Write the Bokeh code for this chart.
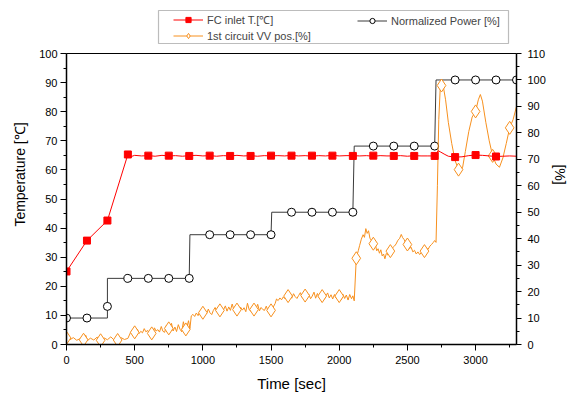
from bokeh.plotting import figure
from bokeh.models import (Range1d, LinearAxis, SingleIntervalTicker, Legend, LegendItem,
                          BoxAnnotation, Span)
from bokeh.embed import file_html
from bokeh.resources import INLINE

# ---------------- data ----------------
# FC inlet temperature [degC] (left axis)
temp_t = [0, 150, 300, 450, 475, 500, 550, 600, 650, 700, 750, 800, 850, 900, 950, 1000,
          1050, 1100, 1150, 1200, 1250, 1300, 1350, 1400, 1450, 1500, 1550, 1600, 1650,
          1700, 1750, 1800, 1850, 1900, 1950, 2000, 2050, 2100, 2150, 2200, 2250, 2300,
          2350, 2400, 2450, 2500, 2550, 2600, 2650, 2700, 2712, 2725, 2745, 2775, 2800,
          2850, 2900, 2950, 3000, 3050, 3100, 3150, 3200, 3250, 3300]
temp_v = [25.1, 35.7, 42.6, 65.3, 64.6, 65.0, 64.8, 64.9, 64.7, 65.0, 64.8, 64.9, 64.7,
          64.9, 65.0, 64.8, 64.9, 64.7, 64.9, 64.8, 65.0, 64.8, 64.9, 64.7, 64.9, 64.8,
          64.9, 64.8, 65.0, 64.8, 64.9, 64.7, 64.9, 64.8, 65.0, 64.8, 64.9, 64.9, 64.8,
          64.9, 64.7, 64.9, 64.8, 64.8, 64.9, 64.7, 64.9, 64.8, 64.8, 64.8, 65.4, 66.6,
          66.1, 65.3, 64.7, 64.4, 64.5, 64.9, 65.1, 65.0, 64.8, 64.6, 64.7, 64.8, 64.7]
temp_mark_t = [0, 150, 300, 450, 600, 750, 900, 1050, 1200, 1350, 1500, 1650, 1800, 1950,
               2100, 2250, 2400, 2550, 2700, 2850, 3000, 3150]
temp_mark_v = [25.1, 35.7, 42.6, 65.3, 64.9, 64.9, 64.8, 64.9, 64.8, 64.8, 64.9, 64.9,
               64.9, 64.9, 64.8, 64.9, 64.8, 64.8, 64.8, 64.4, 65.1, 64.6]

# Normalized power [%] (right axis)
power_t = [0, 300, 300, 900, 905, 1500, 1505, 2100, 2110, 2700, 2710, 3300]
power_v = [10, 10, 25, 25, 41.5, 41.5, 50, 50, 75, 75, 100, 100]
power_mark_t = [0, 150, 300, 450, 600, 750, 900, 1050, 1200, 1350, 1500, 1650, 1800,
                1950, 2100, 2250, 2400, 2550, 2700, 2850, 3000, 3150, 3300]
power_mark_v = [10, 10, 14.4, 25, 25, 25, 25, 41.5, 41.5, 41.5, 41.5, 50, 50, 50, 50,
                75, 75, 75, 75, 100, 100, 100, 100]

# 1st circuit VV position [%] (right axis), read piecewise from the trace
vv_t_a = [0, 10, 25, 50, 75, 100, 125, 140, 155, 175, 200, 225, 250, 275, 300, 325, 350,
          375, 400, 425, 450]
vv_v_a = [4.0, 2.5, 1.8, 2.6, 1.6, 2.2, 1.8, 3.6, 1.5, 2.4, 1.7, 2.8, 1.5, 2.5, 1.8, 2.9,
          1.6, 1.7, 2.6, 1.9, 2.3]
vv_t_b = [470, 482, 495, 507, 520, 532, 545, 557, 570, 582, 595, 607, 620, 632, 645, 657,
          670, 682, 695, 707, 720, 732, 745, 757, 770, 782, 795, 807, 820, 832, 845, 857,
          870, 882, 895]
vv_v_b = [4.6, 4.0, 5.2, 4.3, 5.8, 4.1, 5.0, 4.4, 6.0, 4.8, 5.3, 4.2, 4.9, 3.8, 6.3, 5.1,
          5.6, 4.7, 6.8, 5.0, 4.6, 7.1, 6.2, 5.4, 8.0, 5.1, 6.6, 4.9, 7.5, 5.8, 4.8, 8.6,
          5.7, 6.4, 9.0]
vv_t_c = [905, 915, 927, 940, 952, 965, 977, 990, 1002, 1015, 1027, 1040, 1052, 1065,
          1077, 1090, 1102, 1115, 1127, 1140, 1152, 1165, 1177, 1190, 1202, 1215, 1227,
          1240, 1252, 1265, 1277, 1290, 1302, 1315, 1327, 1340, 1352, 1365, 1377, 1390,
          1402, 1415, 1427, 1440, 1452, 1465, 1477, 1490, 1502, 1515]
vv_v_c = [6.0, 10.8, 11.4, 10.6, 11.9, 10.9, 12.4, 11.2, 12.2, 12.6, 11.6, 13.4, 12.0,
          11.3, 12.9, 14.0, 12.3, 13.1, 13.8, 12.5, 13.2, 14.6, 12.6, 14.2, 12.9, 15.3,
          13.2, 12.1, 15.0, 12.8, 14.1, 13.0, 13.9, 12.4, 15.6, 13.1, 12.6, 14.8, 12.9,
          13.5, 15.2, 12.7, 14.0, 13.2, 12.9, 14.5, 12.8, 13.6, 12.9, 14.0]
vv_t_d = [1530, 1540, 1552, 1565, 1577, 1590, 1602, 1615, 1627, 1640, 1652, 1665, 1677,
          1690, 1702, 1715, 1727, 1740, 1752, 1765, 1777, 1790, 1802, 1815, 1827, 1840,
          1852, 1865, 1877, 1890, 1902, 1915, 1927, 1940, 1952, 1965, 1977, 1990, 2002,
          2015, 2027, 2040, 2052, 2065, 2077, 2090, 2100, 2110]
vv_v_d = [15.5, 17.2, 16.6, 17.6, 16.9, 18.0, 17.3, 18.3, 17.7, 18.9, 17.5, 19.2, 18.1,
          17.4, 18.5, 19.6, 17.9, 19.4, 17.6, 18.2, 19.0, 17.3, 18.3, 19.8, 17.5, 19.3,
          17.8, 18.6, 18.9, 17.1, 18.3, 19.5, 17.6, 18.8, 17.2, 18.9, 17.6, 19.1, 18.3,
          16.9, 19.0, 17.4, 18.7, 16.8, 18.9, 17.3, 18.4, 16.5]
vv_t_e = [2125, 2140, 2150, 2162, 2175, 2185, 2195, 2205, 2215, 2225, 2235, 2245, 2255,
          2265, 2275, 2285, 2295, 2305, 2315, 2325, 2335, 2345, 2357, 2367, 2380, 2392,
          2405, 2417, 2430, 2442, 2455, 2465, 2477, 2490, 2502, 2515, 2527, 2540, 2552,
          2565, 2577, 2590, 2602, 2615, 2627, 2640, 2652, 2665, 2677, 2690, 2700, 2710]
vv_v_e = [32.6, 35.5, 37.5, 39.8, 41.5, 40.5, 43.8, 42.0, 43.0, 40.2, 39.4, 38.6, 37.2,
          37.8, 35.4, 36.2, 34.5, 35.8, 33.5, 34.2, 32.4, 34.4, 33.8, 35.2, 35.0, 36.6,
          37.2, 38.0, 39.4, 40.0, 41.6, 40.4, 39.6, 38.0, 37.6, 36.2, 36.8, 35.0, 35.6,
          34.2, 35.0, 34.0, 34.8, 35.2, 35.3, 36.4, 36.0, 37.2, 37.8, 38.6, 39.3, 38.6]
vv_t_f = [2720, 2730, 2742, 2750, 2765, 2780, 2800, 2825, 2850, 2875, 2890, 2905, 2925,
          2950, 2975, 3000, 3020, 3035, 3050, 3075, 3100, 3125, 3150, 3175, 3200, 3225,
          3250, 3275, 3300]
vv_v_f = [60.0, 85.0, 98.5, 97.9, 97.0, 92.5, 84.0, 76.0, 69.5, 66.1, 65.1, 67.0, 73.0,
          80.5, 86.0, 88.1, 92.5, 94.5, 92.0, 84.0, 77.0, 71.3, 68.2, 67.0, 70.5, 76.0,
          81.9, 85.0, 90.0]
vv_t = vv_t_a + vv_t_b + vv_t_c + vv_t_d + vv_t_e + vv_t_f
vv_v = vv_v_a + vv_v_b + vv_v_c + vv_v_d + vv_v_e + vv_v_f

vv_mark_t = [0, 125, 250, 375, 500, 625, 750, 875, 1000, 1125, 1250, 1375, 1500, 1625,
             1750, 1875, 2000, 2125, 2250, 2375, 2500, 2625, 2750, 2875, 3000, 3125, 3250]
vv_mark_v = [2.5, 1.8, 1.6, 1.7, 4.6, 4.2, 6.1, 5.7, 12.0, 12.9, 13.2, 13.2, 12.9, 18.3,
             18.5, 18.3, 18.3, 32.6, 38.1, 35.3, 37.8, 35.3, 97.9, 66.1, 88.1, 71.3, 81.9]

x_max = 3300
temp_max = 100
pct_max = 110

RED = "#FF0000"
ORANGE = "#F7901E"
DARK = "#3A3A3A"
FONT = "Liberation Sans"

# layout (pixels): data frame is 450 x 291, plus a strip above it that holds the legend
FW, FH_DATA, FH_EXTRA = 450, 291, 49
FH = FH_DATA + FH_EXTRA
y_top = temp_max * FH / FH_DATA
pct_top = pct_max * FH / FH_DATA

p = figure(frame_width=FW, frame_height=FH, output_backend="svg", toolbar_location=None,
           x_range=Range1d(0, x_max), y_range=Range1d(0, y_top),
           min_border_left=66, min_border_top=4, min_border_right=50, min_border_bottom=50,
           background_fill_color="white", border_fill_color="white")
p.extra_y_ranges = {"pct": Range1d(0, pct_top)}
p.xgrid.visible = False
p.ygrid.visible = False
p.outline_line_color = None

p.xaxis.ticker = SingleIntervalTicker(interval=500, num_minor_ticks=2)
p.yaxis.ticker = SingleIntervalTicker(interval=10, num_minor_ticks=2)
p.yaxis.bounds = (0, temp_max)
p.xaxis.axis_label = "Time [sec]"
p.yaxis.axis_label = "Temperature [\u2103]"

ry = LinearAxis(y_range_name="pct", axis_label="[%]", bounds=(0, pct_max),
                ticker=SingleIntervalTicker(interval=10, num_minor_ticks=2))
p.add_layout(ry, "right")

# top border of the data area
p.add_layout(Span(location=temp_max, dimension="width", line_color="black", line_width=1.2))

for ax in [p.xaxis[0], p.yaxis[0], ry]:
    ax.axis_line_width = 1.5
    ax.axis_line_color = "black"
    ax.major_tick_line_color = "black"
    ax.minor_tick_line_color = "black"
    ax.major_tick_in = 0
    ax.major_tick_out = 6
    ax.minor_tick_in = 0
    ax.minor_tick_out = 3
    ax.major_label_text_font = FONT
    ax.major_label_text_font_size = "11px"
    ax.major_label_text_color = "black"
    ax.axis_label_text_font = FONT
    ax.axis_label_text_font_size = "15px"
    ax.axis_label_text_font_style = "normal"
    ax.axis_label_text_color = "black"
p.yaxis[0].major_label_standoff = 3
p.yaxis[0].axis_label_standoff = 8
p.yaxis[0].axis_label_text_font_size = "14px"
p.xaxis[0].major_label_standoff = 5
p.xaxis[0].axis_label_standoff = 8
ry.major_tick_out = 5
ry.major_label_standoff = 6
ry.axis_label_standoff = 3
ry.axis_label_text_font_size = "14px"

# power (black step line with open circles)
pw_l = p.line(power_t, power_v, y_range_name="pct", line_color=DARK, line_width=1)
pw_m = p.scatter(power_mark_t, power_mark_v, y_range_name="pct", marker="circle", size=8,
                 line_color="black", fill_color="white", line_width=1)

# VV position (orange line with open diamonds)
vv_l = p.line(vv_t, vv_v, y_range_name="pct", line_color=ORANGE, line_width=1)
vv_m = p.scatter(vv_mark_t, vv_mark_v, y_range_name="pct", marker="diamond", size=13,
                 line_color=ORANGE, fill_color="white", line_width=1)

# temperature (red line with filled squares)
t_l = p.line(temp_t, temp_v, line_color=RED, line_width=1)
t_m = p.scatter(temp_mark_t, temp_mark_v, marker="square", size=7,
                line_color=RED, fill_color=RED)

# legend frame (screen pixels measured from the frame's left / bottom)
px_per_x = FW / x_max
px_per_y = FH / y_top
box = BoxAnnotation(left=92 / px_per_x, right=442 / px_per_x,
                    bottom=301 / px_per_y, top=334 / px_per_y,
                    fill_color="white", fill_alpha=1, line_color="#222222", line_width=1.2)
p.add_layout(box)

common = dict(border_line_alpha=0, background_fill_alpha=0, padding=2, spacing=2,
              glyph_width=30, glyph_height=13, label_height=13, label_standoff=4,
              label_text_font=FONT, label_text_font_size="11px", margin=0)
leg1 = Legend(items=[LegendItem(label="FC inlet T.[\u2103]", renderers=[t_l, t_m]),
                     LegendItem(label="1st circuit VV pos.[%]", renderers=[vv_l, vv_m])],
              location=(105, 300), orientation="vertical", **common)
leg2 = Legend(items=[LegendItem(label="Normalized Power [%]", renderers=[pw_l, pw_m])],
              location=(289, 315), orientation="vertical", **common)
p.add_layout(leg1)
p.add_layout(leg2)

open("out.html", "w").write(file_html(p, INLINE))
